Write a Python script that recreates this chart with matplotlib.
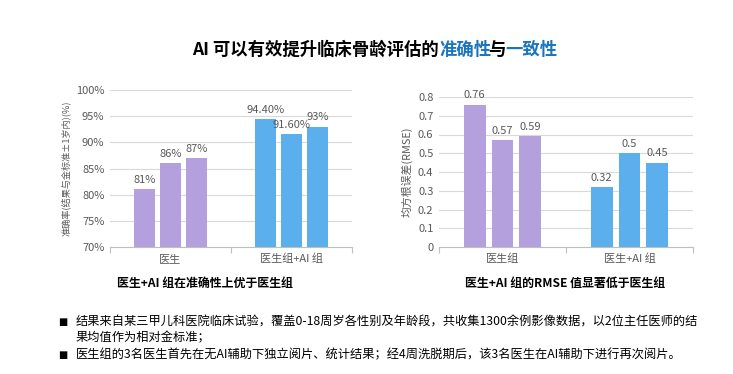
import matplotlib
matplotlib.use("Agg")
import matplotlib.pyplot as plt
import numpy as np

plt.rcParams['font.family'] = ['Noto Sans CJK SC', 'DejaVu Sans']

# ---------------- data ----------------
acc_categories = ["医生", "医生组+AI 组"]
acc_values = [[81, 86, 87], [94.4, 91.6, 93]]
acc_labels = [["81%", "86%", "87%"], ["94.40%", "91.60%", "93%"]]
acc_yticks = [70, 75, 80, 85, 90, 95, 100]

rmse_categories = ["医生组", "医生+AI 组"]
rmse_values = [[0.76, 0.57, 0.59], [0.32, 0.5, 0.45]]
rmse_labels = [["0.76", "0.57", "0.59"], ["0.32", "0.5", "0.45"]]
rmse_yticks = [0, 0.1, 0.2, 0.3, 0.4, 0.5, 0.6, 0.7, 0.8]

title_parts = [("AI 可以有效提升临床骨龄评估的", "black"), ("准确性", "#1A75BC"),
               ("与", "black"), ("一致性", "#1A75BC")]
sub_left = "医生+AI 组在准确性上优于医生组"
sub_right = "医生+AI 组的RMSE 值显著低于医生组"
bullets = ["结果来自某三甲儿科医院临床试验，覆盖0-18周岁各性别及年龄段，共收集1300余例影像数据，以2位主任医师的结\n果均值作为相对金标准；",
           "医生组的3名医生首先在无AI辅助下独立阅片、统计结果；经4周洗脱期后，该3名医生在AI辅助下进行再次阅片。"]

group_colors = ["#B4A0DC", "#5BAFED"]
TXT = "#595959"

W, H = 733, 374
fig = plt.figure(figsize=(W / 100, H / 100), dpi=100)


def px_axes(x0, y0, x1, y1):
    return fig.add_axes([x0 / W, 1 - y1 / H, (x1 - x0) / W, (y1 - y0) / H])


def draw_bars(ax, cats, vals, labels, yticks, ylim, fmt, ylabel, ylsize, step, width):
    offsets = np.array([-step, 0, step])
    for i, (v, lab) in enumerate(zip(vals, labels)):
        xs = i + offsets
        base = ylim[0]
        ax.bar(xs, np.array(v) - base, bottom=base, width=width,
               color=group_colors[i], zorder=3)
        for x, val, t in zip(xs, v, lab):
            ax.annotate(t, (x, val), xytext=(0, 3), textcoords="offset points",
                        ha="center", va="bottom", fontsize=8, color=TXT,
                        annotation_clip=False, zorder=4)
    ax.set_xlim(-0.5, len(cats) - 0.5)
    ax.set_ylim(*ylim)
    ax.set_yticks(yticks)
    ax.set_yticklabels([fmt(t) for t in yticks], fontsize=8, color=TXT)
    ax.set_xticks(range(len(cats)))
    ax.set_xticklabels(cats, fontsize=8, color=TXT)
    ax.tick_params(axis="x", length=0, pad=5)
    ax.tick_params(axis="y", length=0, pad=4)
    ax.set_xticks(np.arange(-0.5, len(cats)), minor=True)
    ax.tick_params(axis="x", which="minor", length=4, color="#BFBFBF", width=0.8)
    ax.yaxis.grid(True, color="#D9D9D9", linewidth=0.8, zorder=0)
    for s in ["top", "right", "left"]:
        ax.spines[s].set_visible(False)
    ax.spines["bottom"].set_color("#BFBFBF")
    ax.spines["bottom"].set_linewidth(0.8)
    ax.set_ylabel(ylabel, fontsize=ylsize, color=TXT, labelpad=4)


ax1 = px_axes(110, 90, 352, 247)
draw_bars(ax1, acc_categories, acc_values, acc_labels, acc_yticks, (70, 100),
          lambda t: f"{t}%", "准确率(结果与金标准±1岁内)(%)", 6.6, 0.215, 0.175)

ax2 = px_axes(439, 97, 693, 247)
draw_bars(ax2, rmse_categories, rmse_values, rmse_labels, rmse_yticks, (0, 0.8),
          lambda t: "0" if t == 0 else f"{t:g}", "均方根误差(RMSE)", 7.8, 0.22, 0.173)

# title with coloured parts, placed one after another
renderer = fig.canvas.get_renderer()
kern = [0, 0, -3, -3]   # pixel nudges so the parts sit tight together
texts = []
for s, c in title_parts:
    texts.append(fig.text(0, 1 - 50 / H, s, fontsize=12.5, fontweight="bold",
                          color=c, ha="left", va="center"))
widths = [t.get_window_extent(renderer).width for t in texts]
total = sum(widths) + kern[2]
start = 375 - total / 2
x = start
for t, w, k in zip(texts, widths, kern):
    t.set_x((x + k) / W)
    x += w

fig.text(205 / W, 1 - 283 / H, sub_left, fontsize=8.6, fontweight="bold",
         color="black", ha="center", va="center")
fig.text(565 / W, 1 - 283 / H, sub_right, fontsize=8.6, fontweight="bold",
         color="black", ha="center", va="center")

bullet_y = [322, 355]
for y, b in zip(bullet_y, bullets):
    fig.text(58 / W, 1 - y / H, "■", fontsize=7, color="black", ha="left",
             va="center", family=["DejaVu Sans"])
    fig.text(76 / W, 1 - (y - 6.5) / H, b, fontsize=8.8, color="black", ha="left",
             va="top", linespacing=1.3)

fig.savefig("out.png", dpi=100)
